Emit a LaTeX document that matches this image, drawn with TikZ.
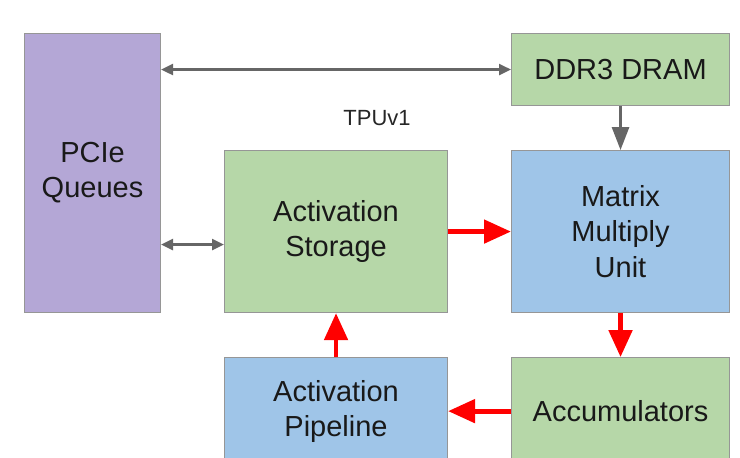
\documentclass[tikz,border=0pt]{standalone}
\usepackage{fontspec}
\setmainfont{Liberation Sans}
\usepackage{xcolor}
\usepackage{tikz}
\usetikzlibrary{positioning,arrows.meta,calc}
\definecolor{pcipurple}{RGB}{180,167,214}
\definecolor{memgreen}{RGB}{182,215,168}
\definecolor{unitblue}{RGB}{159,197,232}
\definecolor{boxline}{RGB}{150,150,150}
\definecolor{ctlgray}{RGB}{102,102,102}
\definecolor{datared}{RGB}{255,0,0}
\tikzset{
  blk/.style={rectangle, draw=boxline, line width=0.6pt, inner sep=0pt, anchor=north west,
              align=center, text=black!90, font=\fontsize{16.5}{20}\selectfont},
  pcieblk/.style={blk, fill=pcipurple},
  memblk/.style={blk, fill=memgreen},
  unitblk/.style={blk, fill=unitblue},
  ctl/.style={{Triangle[length=2.4mm,width=2.2mm]}-{Triangle[length=2.4mm,width=2.2mm]},
              line width=1.4pt, ctlgray},
  ctldown/.style={-{Triangle[length=4.6mm,width=3.4mm]}, line width=1.6pt, ctlgray},
  data/.style={-{Triangle[length=5.4mm,width=4.6mm]}, line width=2.8pt, datared},
  tag/.style={font=\fontsize{12.5}{14}\selectfont, text=black!85}
}

\begin{document}
\begin{tikzpicture}[]
\useasboundingbox (0,0) rectangle (14.8,-9.16);
\node (pcie) [pcieblk, minimum width=2.72cm, minimum height=5.58cm] at (0.48,-0.66) {PCIe\\Queues};
\node (ddr) [memblk, minimum width=4.36cm, minimum height=1.44cm] at (10.22,-0.66) {DDR3 DRAM};
\node (mmu) [unitblk, minimum width=4.36cm, minimum height=3.24cm] at ($(ddr.south west)+(0,-0.88)$) {Matrix\\Multiply\\Unit};
\node (as) [memblk, minimum width=4.46cm, minimum height=3.24cm] at ($(mmu.north west)+(-5.74,0)$) {Activation\\Storage};
\node (acc) [memblk, minimum width=4.36cm, minimum height=2.14cm] at ($(mmu.south west)+(0,-0.88)$) {Accumulators};
\node (ap) [unitblk, minimum width=4.46cm, minimum height=2.14cm] at ($(as.south west)+(0,-0.88)$) {Activation\\Pipeline};
\node (tpu) [tag] at (7.54,-2.36) {TPUv1};

\draw[ctl] (pcie.east |- ddr.west) -- (ddr.west);
\draw[ctl] ($(as.west)+(0,-0.26)$) coordinate (asin) -- (asin -| pcie.east);
\draw[ctldown] (ddr.south) -- (mmu.north);
\draw[data] (as.east) -- (mmu.west);
\draw[data] (mmu.south) -- (acc.north);
\draw[data] (acc.west) -- (ap.east);
\draw[data] (ap.north) -- (as.south);
\end{tikzpicture}
\end{document}
